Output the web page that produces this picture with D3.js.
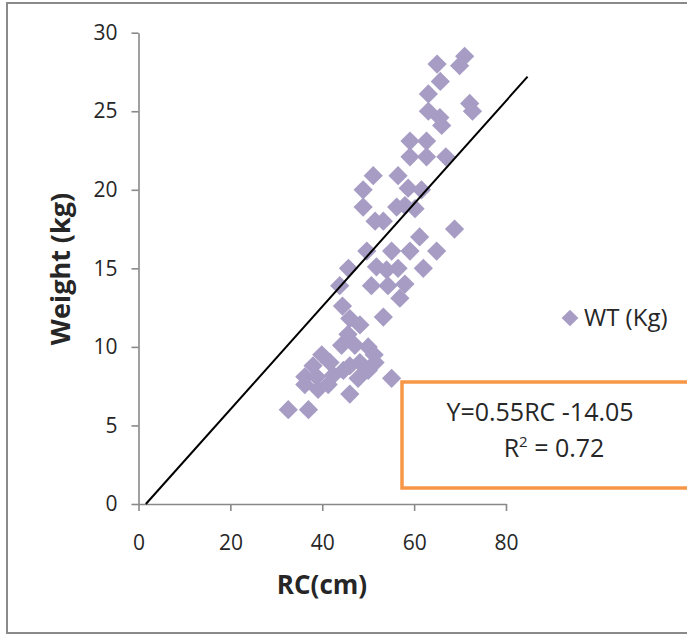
<!DOCTYPE html>
<html>
<head>
<meta charset="utf-8">
<script src="https://cdn.jsdelivr.net/npm/d3@7"></script>
<style>
  body { margin: 0; background: #fff; }
  svg text { font-family: "Open Sans", "Noto Sans", sans-serif; fill: #262626; }
</style>
</head>
<body>
<div id="chart"></div>
<script>
var svgWidth = 687;
var svgHeight = 636;

// RC (cm) of each child
var rcValues = [
    65.0, 71.0, 69.9, 65.7, 63.1, 63.1, 65.6, 66.0, 72.1, 72.7,
    59.1, 62.7, 59.1, 62.7, 66.9, 51.1, 56.5, 48.9, 58.7, 61.6,
    48.9, 56.2, 58.0, 60.2, 51.5, 53.3, 68.8, 61.2, 49.7, 55.1,
    59.1, 64.9, 45.7, 51.8, 54.0, 56.5, 62.0, 43.8, 50.7, 54.3,
    58.0, 56.9, 44.4, 53.3, 46.0, 48.2, 45.6, 47.1, 44.2, 50.0,
    51.3, 51.5, 50.0, 48.2, 47.8, 39.9, 41.7, 38.0, 36.2, 38.8,
    42.4, 44.6, 46.0, 36.2, 39.1, 41.3, 46.0, 32.6, 37.0, 55.1
];
// weight (kg) of each child
var wtValues = [
    28.0, 28.5, 27.9, 26.9, 26.1, 25.0, 24.6, 24.1, 25.5, 25.0,
    23.1, 23.1, 22.1, 22.1, 22.1, 20.9, 20.9, 20.0, 20.1, 20.0,
    18.9, 18.9, 19.0, 18.8, 18.0, 18.0, 17.5, 17.0, 16.1, 16.1,
    16.1, 16.1, 15.0, 15.1, 14.9, 15.0, 15.0, 13.9, 13.9, 13.9,
    14.0, 13.1, 12.6, 11.9, 11.8, 11.4, 10.8, 10.1, 10.1, 10.0,
    9.5, 9.0, 8.5, 9.0, 8.0, 9.5, 9.0, 8.8, 8.1, 8.1,
    8.2, 8.5, 8.8, 7.6, 7.3, 7.6, 7.0, 6.0, 6.0, 8.0
];

// fitted line as drawn in the picture
var lineX = [1.6, 84.7];
var lineY = [0, 27.2];

var xTicks = [0, 20, 40, 60, 80];
var yTicks = [0, 5, 10, 15, 20, 25, 30];

var seriesName = "WT (Kg)";
var equationText = "Y=0.55RC -14.05";
var r2Value = "0.72";

var points = rcValues.map(function(rc, i) {
    return { rc: rc, wt: wtValues[i] };
});

var svg = d3.select("#chart")
    .append("svg")
    .attr("width", svgWidth)
    .attr("height", svgHeight);

// outer chart frame (runs off the right edge)
svg.append("rect")
    .attr("x", 7)
    .attr("y", 3)
    .attr("width", 700)
    .attr("height", 630)
    .attr("fill", "none")
    .attr("stroke", "#8a8a8a")
    .attr("stroke-width", 2);

var xScale = d3.scaleLinear()
    .domain([0, 80])
    .range([138.5, 506]);

var yScale = d3.scaleLinear()
    .domain([0, 30])
    .range([504, 32.7]);

var xAxis = d3.axisBottom(xScale).tickValues(xTicks).tickSize(7).tickSizeOuter(0).tickPadding(24);
var yAxis = d3.axisLeft(yScale).tickValues(yTicks).tickSize(7).tickSizeOuter(0).tickPadding(14);

var gx = svg.append("g")
    .attr("transform", `translate(0, ${yScale(0)})`)
    .call(xAxis);

var gy = svg.append("g")
    .attr("transform", `translate(${xScale(0)}, 0)`)
    .call(yAxis);

[gx, gy].forEach(function(g) {
    g.selectAll("path, line")
        .attr("stroke", "#898989")
        .attr("stroke-width", 1.6);
    g.selectAll("text")
        .attr("font-family", "Open Sans")
        .attr("font-size", "21px")
        .attr("fill", "#333");
});

// diamonds
var diamond = d3.symbol().type(d3.symbolSquare).size(185);

svg.append("g")
    .selectAll("path")
    .data(points)
    .enter()
    .append("path")
    .attr("d", diamond)
    .attr("transform", d => `translate(${xScale(d.rc)}, ${yScale(d.wt)}) rotate(45)`)
    .attr("fill", "#a79cc4");

// trend line
svg.append("line")
    .attr("x1", xScale(lineX[0]))
    .attr("y1", yScale(lineY[0]))
    .attr("x2", xScale(lineX[1]))
    .attr("y2", yScale(lineY[1]))
    .attr("stroke", "#000")
    .attr("stroke-width", 2);

// axis titles
svg.append("text")
    .attr("x", 322)
    .attr("y", 594)
    .attr("text-anchor", "middle")
    .attr("font-size", "26px")
    .attr("font-weight", "bold")
    .attr("fill", "#000")
    .text("RC(cm)");

svg.append("text")
    .attr("transform", "translate(70, 269) rotate(-90)")
    .attr("text-anchor", "middle")
    .attr("font-size", "27px")
    .attr("font-weight", "bold")
    .attr("fill", "#000")
    .text("Weight (kg)");

// legend
svg.append("path")
    .attr("d", d3.symbol().type(d3.symbolSquare).size(140))
    .attr("transform", "translate(570, 318) rotate(45)")
    .attr("fill", "#a79cc4");

svg.append("text")
    .attr("x", 584)
    .attr("y", 326)
    .attr("font-size", "24px")
    .attr("fill", "#222")
    .text(seriesName);

// equation box
svg.append("rect")
    .attr("x", 402)
    .attr("y", 382)
    .attr("width", 300)
    .attr("height", 106)
    .attr("fill", "#fff")
    .attr("stroke", "#f79646")
    .attr("stroke-width", 3.5);

svg.append("text")
    .attr("x", 540)
    .attr("y", 421)
    .attr("text-anchor", "middle")
    .attr("font-size", "25px")
    .attr("fill", "#111")
    .text(equationText);

var r2 = svg.append("text")
    .attr("x", 554)
    .attr("y", 457)
    .attr("text-anchor", "middle")
    .attr("font-size", "25px")
    .attr("fill", "#111");
r2.append("tspan").text("R");
r2.append("tspan").attr("font-size", "15px").attr("dy", -10).text("2");
r2.append("tspan").attr("dy", 10).text(" = " + r2Value);
</script>
</body>
</html>
